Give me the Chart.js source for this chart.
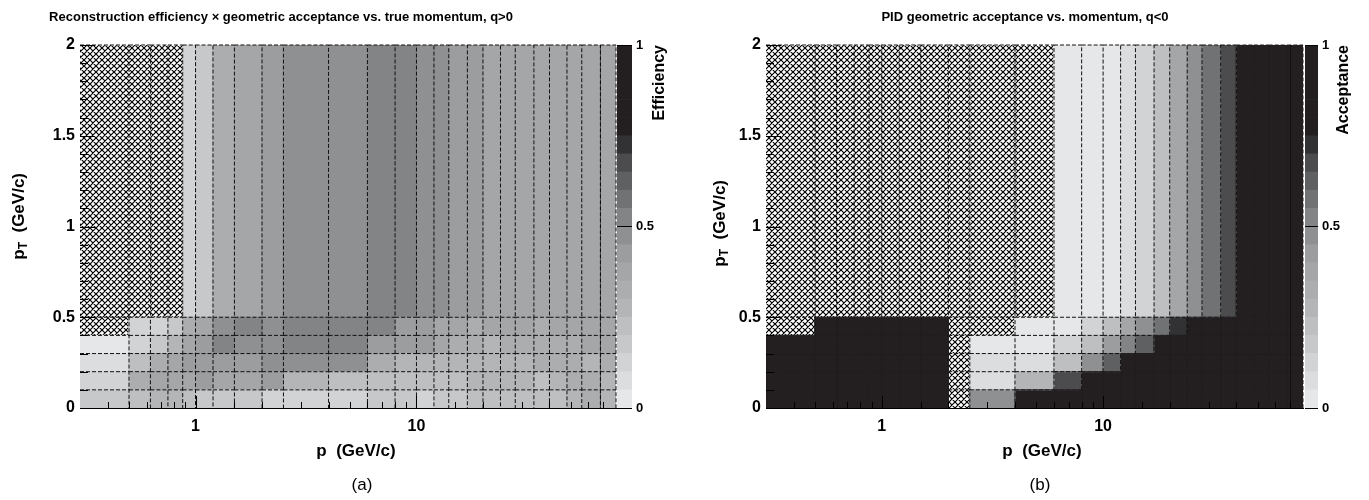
<!DOCTYPE html>
<html><head><meta charset="utf-8">
<script src="https://cdn.jsdelivr.net/npm/chart.js@4.4.1/dist/chart.umd.min.js"></script>
<style>
html,body{margin:0;padding:0;background:#fff;}
#wrap{position:relative;width:1369px;height:500px;overflow:hidden;background:#fff;}
canvas{position:absolute;top:0;}
</style></head><body>
<div id="wrap">
<canvas id="mainA" width="626" height="500" style="left:0px"></canvas>
<canvas id="barA" width="84" height="500" style="left:600px"></canvas>
<canvas id="mainB" width="628" height="500" style="left:685px"></canvas>
<canvas id="barB" width="79" height="500" style="left:1290px"></canvas>
</div>
<script>
// ---------------- data ----------------
const pEdges = [0.3,0.5,0.625,0.75,0.875,1,1.2,1.5,2,2.5,4,6,8,10,12,14,17,20,24,28,34,40,48,56,68,80];
const ptEdges = [0,0.1,0.2,0.3,0.4,0.5,2];

// (a) reconstruction efficiency x geometric acceptance, q>0 ; null = empty (hatched)
const effPt0 = [0.17,0.22,0.27,0.27,0.22,0.17,0.17,0.17,0.12,0.12,0.12,0.17,0.17,0.12,0.17,0.17,0.22,0.22,0.22,0.22,0.22,0.22,0.27,0.32,0.27];
const effPt1 = [0.12,0.32,0.37,0.37,0.37,0.42,0.37,0.37,0.42,0.27,0.22,0.22,0.22,0.22,0.22,0.22,0.27,0.27,0.27,0.27,0.22,0.27,0.32,0.32,0.27];
const effPt2 = [0.07,0.22,0.32,0.37,0.42,0.42,0.42,0.42,0.47,0.47,0.47,0.32,0.27,0.27,0.27,0.27,0.27,0.27,0.27,0.27,0.32,0.32,0.32,0.27,0.32];
const effPt3 = [0.02,0.12,0.17,0.27,0.37,0.42,0.52,0.47,0.47,0.52,0.52,0.42,0.42,0.42,0.37,0.32,0.32,0.27,0.32,0.32,0.32,0.32,0.32,0.37,0.37];
const effPt4 = [null,0.12,0.12,0.17,0.32,0.37,0.47,0.52,0.47,0.52,0.52,0.52,0.42,0.42,0.37,0.37,0.32,0.37,0.37,0.37,0.32,0.37,0.37,0.37,0.37];
const effPt5 = [null,null,null,null,0.12,0.17,0.32,0.37,0.42,0.47,0.47,0.52,0.52,0.47,0.47,0.42,0.42,0.37,0.37,0.37,0.37,0.37,0.37,0.37,0.37];

// (b) PID geometric acceptance, q<0 ; null = empty (hatched)
const accPt0 = [1,1,1,1,1,1,1,1,null,0.47,1,1,1,1,1,1,1,1,1,1,1,1,1,1,1];
const accPt1 = [1,1,1,1,1,1,1,1,null,0.07,0.27,0.67,1,1,1,1,1,1,1,1,1,1,1,1,1];
const accPt2 = [1,1,1,1,1,1,1,1,null,0.06,0.06,0.22,0.47,0.62,1,1,1,1,1,1,1,1,1,1,1];
const accPt3 = [1,1,1,1,1,1,1,1,null,0.02,0.02,0.12,0.22,0.42,0.52,0.62,1,1,1,1,1,1,1,1,1];
const accPt4 = [null,1,1,1,1,1,1,1,null,null,0.02,0.02,0.12,0.22,0.37,0.47,0.57,0.72,1,1,1,1,1,1,1];
const accPt5 = [null,null,null,null,null,null,null,null,null,null,null,0.02,0.02,0.04,0.07,0.12,0.22,0.37,0.47,0.57,0.67,1,1,1,1];

const xTickLabels = [1, 10];
const ptTickValues = [0, 0.5, 1, 1.5, 2];
const zTickValues = [0, 0.5, 1];
const zLevelSteps = [0.05,0.05,0.05,0.05,0.05,0.05,0.05,0.05,0.05,0.05,0.05,0.05,0.05,0.05,0.05,0.05,0.05,0.05,0.05,0.05];

// ---------------- style ----------------
const FONT = "'Liberation Sans', Arial, Helvetica, sans-serif";
const paletteGrays = ['#e6e7e8','#dcddde','#d2d3d5','#c7c8ca','#bebfc1','#b4b5b7','#acadaf','#a5a6a8','#9c9d9f','#8f9092',
                      '#838486','#717274','#5f6062','#4c4c4e','#323133','#231f20','#231f20','#231f20','#231f20','#231f20'];
const BLACK = '#231f20';
Chart.defaults.font.family = FONT;
Chart.defaults.color = '#000';

function colorFor(v) {
  let acc = 0;
  for (let i = 0; i < zLevelSteps.length; i++) {
    acc += zLevelSteps[i];
    if (v < acc - 1e-9) return paletteGrays[i];
  }
  return paletteGrays[paletteGrays.length - 1];
}

function makeHatch() {
  const s = 6;
  const c = document.createElement('canvas');
  c.width = s; c.height = s;
  const g = c.getContext('2d');
  g.fillStyle = '#fff'; g.fillRect(0, 0, s, s);
  g.strokeStyle = '#000'; g.lineWidth = 1.2;
  g.beginPath();
  for (const k of [-s, 0, s]) {
    g.moveTo(k - 1, -1); g.lineTo(k + s + 1, s + 1);
    g.moveTo(k + s + 1, -1); g.lineTo(k - 1, s + 1);
  }
  g.stroke();
  return g.createPattern(c, 'repeat');
}
const hatch = makeHatch();

function textPlugin(items) {
  return {
    id: 'panelText',
    afterDraw(chart) {
      const ctx = chart.ctx;
      items.forEach(it => {
        ctx.save();
        ctx.translate(it.x, it.y);
        if (it.rotate) ctx.rotate(it.rotate);
        ctx.fillStyle = '#000';
        ctx.textBaseline = it.baseline || 'middle';
        ctx.textAlign = 'left';
        const widths = it.parts.map(p => { ctx.font = `${p.weight || 'bold'} ${p.size}px ${FONT}`; return ctx.measureText(p.t).width; });
        const total = widths.reduce((a, b) => a + b, 0);
        let x = it.align === 'right' ? -total : (it.align === 'center' ? -total / 2 : 0);
        it.parts.forEach((p, i) => {
          ctx.font = `${p.weight || 'bold'} ${p.size}px ${FONT}`;
          ctx.fillText(p.t, x, p.dy || 0);
          x += widths[i];
        });
        ctx.restore();
      });
    }
  };
}

const innerTicks = {
  id: 'innerTicks',
  afterDatasetsDraw(chart) {
    const {ctx, chartArea: a, scales: {x, y}} = chart;
    ctx.save();
    ctx.strokeStyle = '#000';
    ctx.lineWidth = 1;
    ctx.beginPath();
    x.ticks.forEach(t => {
      const lg = Math.log10(t.value);
      const major = Math.abs(lg - Math.round(lg)) < 1e-6;
      const px = Math.round(x.getPixelForValue(t.value)) + 0.5;
      if (px <= a.left + 1 || px >= a.right - 1) return;
      ctx.moveTo(px, a.bottom);
      ctx.lineTo(px, a.bottom - (major ? 12 : 6));
    });
    const step = (ptTickValues[1] - ptTickValues[0]) / 5;
    const n = Math.round((y.max - y.min) / step);
    for (let i = 0; i <= n; i++) {
      const v = y.min + i * step;
      const py = Math.round(y.getPixelForValue(v)) + 0.5;
      const major = i % 5 === 0;
      ctx.moveTo(a.left, py);
      ctx.lineTo(a.left + (major ? 15 : 8), py);
    }
    ctx.stroke();
    ctx.restore();
  }
};

function mainChart(id, rows, yAxisW, texts) {
  const fills = [], edges = [];
  rows.forEach((row, r) => row.forEach((v, c) => {
    const x0 = pEdges[c], x1 = pEdges[c + 1], y0 = ptEdges[r], y1 = ptEdges[r + 1];
    const col = v === null ? hatch : colorFor(v);
    // filled cell (solid outline in its own colour hides anti-aliasing seams)
    fills.push({
      order: 1,
      data: [{x: x0, y: y0}, {x: x1, y: y0}, {x: x1, y: y1}, {x: x0, y: y1}, {x: x0, y: y0}],
      showLine: true, fill: 'shape', tension: 0,
      backgroundColor: col,
      borderWidth: v === null ? 0 : 1, borderColor: v === null ? 'rgba(0,0,0,0)' : col,
      pointRadius: 0, pointHoverRadius: 0, pointHitRadius: 0
    });
    // dashed top + right edge of the cell (each shared edge drawn once), drawn above all fills
    edges.push({
      order: 0,
      data: [{x: x0, y: y1}, {x: x1, y: y1}, {x: x1, y: y0}],
      showLine: true, fill: false, tension: 0,
      borderColor: col === BLACK ? BLACK : '#111', borderWidth: 1, borderDash: [4, 2],
      pointRadius: 0, pointHoverRadius: 0, pointHitRadius: 0, clip: 2
    });
  }));
  return new Chart(document.getElementById(id), {
    type: 'scatter',
    data: {datasets: edges.concat(fills)},
    plugins: [innerTicks, textPlugin(texts)],
    options: {
      responsive: false, animation: false, events: [],
      layout: {padding: {left: 0, right: 10, top: 45, bottom: 0}},
      plugins: {
        legend: {display: false}, tooltip: {enabled: false}, title: {display: false},
        filler: {propagate: false, drawTime: 'beforeDatasetsDraw'}
      },
      scales: {
        x: {
          type: 'logarithmic', min: pEdges[0], max: pEdges[pEdges.length - 1],
          afterFit: s => { s.height = 92; },
          grid: {display: true, drawOnChartArea: false, drawTicks: false},
          border: {display: true, color: '#000', width: 1},
          ticks: {autoSkip: false, maxRotation: 0, minRotation: 0, padding: 9, color: '#000', font: {size: 16, weight: 'bold'},
            callback: v => xTickLabels.some(t => Math.abs(t - v) < 1e-9) ? String(v) : ''},
          title: {display: false}
        },
        y: {
          type: 'linear', min: ptEdges[0], max: ptEdges[ptEdges.length - 1],
          afterFit: s => { s.width = yAxisW; },
          afterBuildTicks: s => { s.ticks = ptTickValues.map(v => ({value: v})); },
          grid: {display: true, drawOnChartArea: false, drawTicks: false},
          border: {display: true, color: '#000', width: 1},
          ticks: {padding: 5, color: '#000', font: {size: 16, weight: 'bold'}, callback: v => String(v)}
        }
      }
    }
  });
}

function colorBar(id, padL, axisW, texts) {
  return new Chart(document.getElementById(id), {
    type: 'bar',
    data: {
      labels: [''],
      datasets: zLevelSteps.map((s, i) => ({data: [s], backgroundColor: paletteGrays[i], borderWidth: 0, barPercentage: 1, categoryPercentage: 1}))
    },
    plugins: [textPlugin(texts)],
    options: {
      responsive: false, animation: false, events: [],
      layout: {padding: {left: padL, right: 0, top: 45, bottom: 92}},
      plugins: {legend: {display: false}, tooltip: {enabled: false}},
      scales: {
        x: {display: false, stacked: true},
        y: {
          stacked: true, position: 'right', min: zTickValues[0], max: zTickValues[zTickValues.length - 1],
          afterFit: s => { s.width = axisW; },
          afterBuildTicks: s => { s.ticks = zTickValues.map(v => ({value: v})); },
          grid: {display: true, drawOnChartArea: true, drawTicks: false, color: '#000', lineWidth: 1, z: 1},
          border: {display: true, color: '#000', width: 1},
          ticks: {padding: 4, color: '#000', font: {size: 13, weight: 'bold'}, callback: v => String(v)}
        }
      }
    }
  });
}

const effRows = [effPt0, effPt1, effPt2, effPt3, effPt4, effPt5];
const accRows = [accPt0, accPt1, accPt2, accPt3, accPt4, accPt5];

mainChart('mainA', effRows, 80, [
  {x: 281, y: 21, align: 'center', baseline: 'alphabetic', parts: [{t: 'Reconstruction efficiency \u00d7 geometric acceptance vs. true momentum, q>0', size: 13}]},
  {x: 19, y: 173, rotate: -Math.PI / 2, align: 'right', parts: [{t: 'p', size: 17}, {t: 'T', size: 12, dy: 5}, {t: '  (GeV/c)', size: 17}]},
  {x: 356, y: 451, align: 'center', parts: [{t: 'p  (GeV/c)', size: 17}]},
  {x: 362, y: 485, align: 'center', parts: [{t: '(a)', size: 17, weight: 'normal'}]}
]);
colorBar('barA', 17, 52, [
  {x: 60, y: 45, rotate: -Math.PI / 2, align: 'right', parts: [{t: 'Efficiency', size: 16}]}
]);
mainChart('mainB', accRows, 81, [
  {x: 340, y: 21, align: 'center', baseline: 'alphabetic', parts: [{t: 'PID geometric acceptance vs. momentum, q<0', size: 13}]},
  {x: 35, y: 180, rotate: -Math.PI / 2, align: 'right', parts: [{t: 'p', size: 17}, {t: 'T', size: 12, dy: 5}, {t: '  (GeV/c)', size: 17}]},
  {x: 357, y: 451, align: 'center', parts: [{t: 'p  (GeV/c)', size: 17}]},
  {x: 355, y: 485, align: 'center', parts: [{t: '(b)', size: 17, weight: 'normal'}]}
]);
colorBar('barB', 15, 51, [
  {x: 54, y: 45, rotate: -Math.PI / 2, align: 'right', parts: [{t: 'Acceptance', size: 16}]}
]);
</script>
</body></html>
